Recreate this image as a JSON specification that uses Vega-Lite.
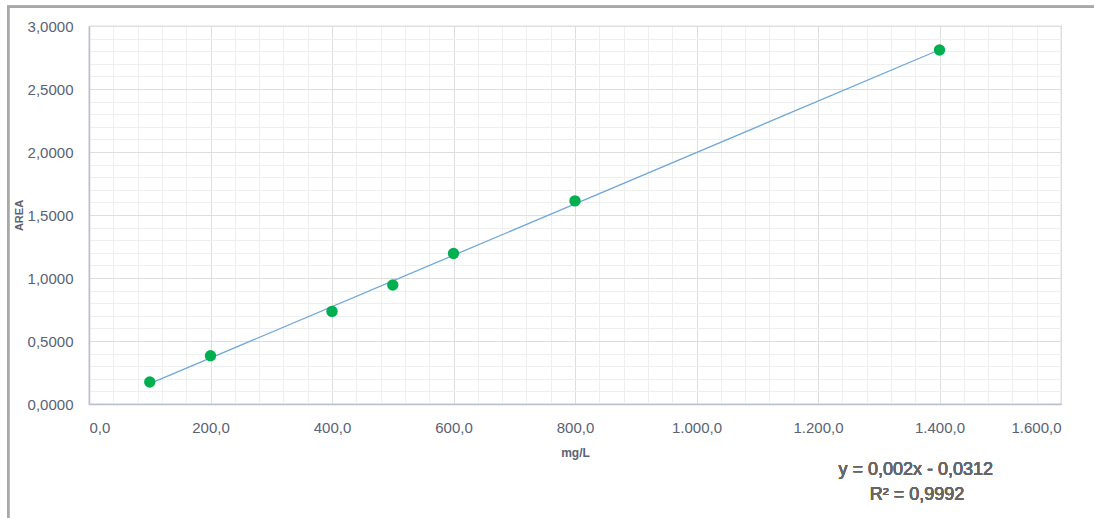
{
  "$schema": "https://vega.github.io/schema/vega-lite/v6.json",
  "width": 972,
  "height": 378,
  "autosize": "none",
  "padding": {"left": 89, "top": 26, "right": 33, "bottom": 114},
  "background": "white",
  "config": {
    "locale": {"number": {"decimal": ",", "thousands": ".", "grouping": [3], "currency": ["", ""]}},
    "view": {"stroke": "#c4c4c4", "strokeWidth": 1.2},
    "font": "Liberation Sans"
  },
  "data": {
    "values": [
      {"conc": 100, "area": 0.175},
      {"conc": 200, "area": 0.383},
      {"conc": 400, "area": 0.735},
      {"conc": 500, "area": 0.945},
      {"conc": 600, "area": 1.195},
      {"conc": 800, "area": 1.612},
      {"conc": 1400, "area": 2.81}
    ]
  },
  "resolve": {"axis": {"x": "independent", "y": "independent"}},
  "layer": [
    {
      "mark": {"type": "rect", "fill": null, "stroke": "#a8a8a8", "strokeWidth": 2, "clip": false},
      "encoding": {
        "x": {"datum": -133, "type": "quantitative", "scale": {"domain": [0, 1600], "nice": false, "zero": false}, "axis": null},
        "x2": {"datum": 3000},
        "y": {"datum": 3.153, "type": "quantitative", "scale": {"domain": [0, 3], "nice": false, "zero": false}, "axis": null},
        "y2": {"datum": -3}
      }
    },
    {
      "transform": [{"regression": "area", "on": "conc"}],
      "mark": {"type": "line", "color": "#6fa8dc", "strokeWidth": 1.3},
      "encoding": {
        "x": {
          "field": "conc", "type": "quantitative",
          "scale": {"domain": [0, 1600], "nice": false, "zero": false},
          "axis": {"orient": "bottom", "values": [40,80,120,160,240,280,320,360,440,480,520,560,640,680,720,760,840,880,920,960,1040,1080,1120,1160,1240,1280,1320,1360,1440,1480,1520,1560], "grid": true, "gridColor": "#efefef", "gridWidth": 1, "labels": false, "ticks": false, "domain": false, "title": null}
        },
        "y": {
          "field": "area", "type": "quantitative",
          "scale": {"domain": [0, 3], "nice": false, "zero": false},
          "axis": {"orient": "left", "values": [0.1,0.2,0.3,0.4,0.6,0.7,0.8,0.9,1.1,1.2,1.3,1.4,1.6,1.7,1.8,1.9,2.1,2.2,2.3,2.4,2.6,2.7,2.8,2.9], "grid": true, "gridColor": "#efefef", "gridWidth": 1, "labels": false, "ticks": false, "domain": false, "title": null}
        }
      }
    },
    {
      "mark": {"type": "point", "filled": true, "color": "#00b050", "opacity": 1, "size": 130},
      "encoding": {
        "x": {
          "field": "conc", "type": "quantitative",
          "scale": {"domain": [0, 1600], "nice": false, "zero": false},
          "axis": {"orient": "bottom", "values": [0,200,400,600,800,1000,1200,1400,1600], "format": ",.1f", "grid": true, "gridColor": "#dedede", "gridWidth": 1, "ticks": false, "tickSize": 0, "domain": true, "domainColor": "#b8c0cc", "domainWidth": 1.5, "labelFontSize": 15, "labelColor": "#5a6275", "labelPadding": 16, "labelFont": "Liberation Sans", "title": "mg/L", "titleFontSize": 12, "titleFontWeight": "bold", "titleColor": "#5a6275", "titlePadding": 12, "titleFont": "Liberation Sans"}
        },
        "y": {
          "field": "area", "type": "quantitative",
          "scale": {"domain": [0, 3], "nice": false, "zero": false},
          "axis": {"orient": "left", "values": [0,0.5,1,1.5,2,2.5,3], "format": ".4f", "grid": true, "gridColor": "#dedede", "gridWidth": 1, "ticks": false, "tickSize": 0, "domain": true, "domainColor": "#b8c0cc", "domainWidth": 1.5, "labelFontSize": 15, "labelColor": "#5a6275", "labelPadding": 16, "labelFont": "Liberation Sans", "title": "AREA", "titleFontSize": 11, "titleFontWeight": "bold", "titleColor": "#5a6275", "titlePadding": 3, "titleFont": "Liberation Sans"}
        }
      }
    },
    {
      "mark": {"type": "text", "align": "center", "baseline": "middle", "fontSize": 18, "fontWeight": "normal", "font": "Liberation Sans", "fill": "#666666", "stroke": null, "strokeWidth": 0, "clip": false},
      "encoding": {
        "x": {"datum": 1361, "type": "quantitative", "scale": {"domain": [0, 1600], "nice": false, "zero": false}, "axis": null},
        "y": {"datum": -0.524, "type": "quantitative", "scale": {"domain": [0, 3], "nice": false, "zero": false}, "axis": null},
        "text": {"value": "y = 0,002x - 0,0312"}
      }
    },
    {
      "mark": {"type": "text", "align": "center", "baseline": "middle", "fontSize": 18, "fontWeight": "normal", "font": "Liberation Sans", "fill": "#666666", "stroke": null, "strokeWidth": 0, "clip": false},
      "encoding": {
        "x": {"datum": 1363, "type": "quantitative", "scale": {"domain": [0, 1600], "nice": false, "zero": false}, "axis": null},
        "y": {"datum": -0.722, "type": "quantitative", "scale": {"domain": [0, 3], "nice": false, "zero": false}, "axis": null},
        "text": {"value": "R² = 0,9992"}
      }
    }
  ]
}
